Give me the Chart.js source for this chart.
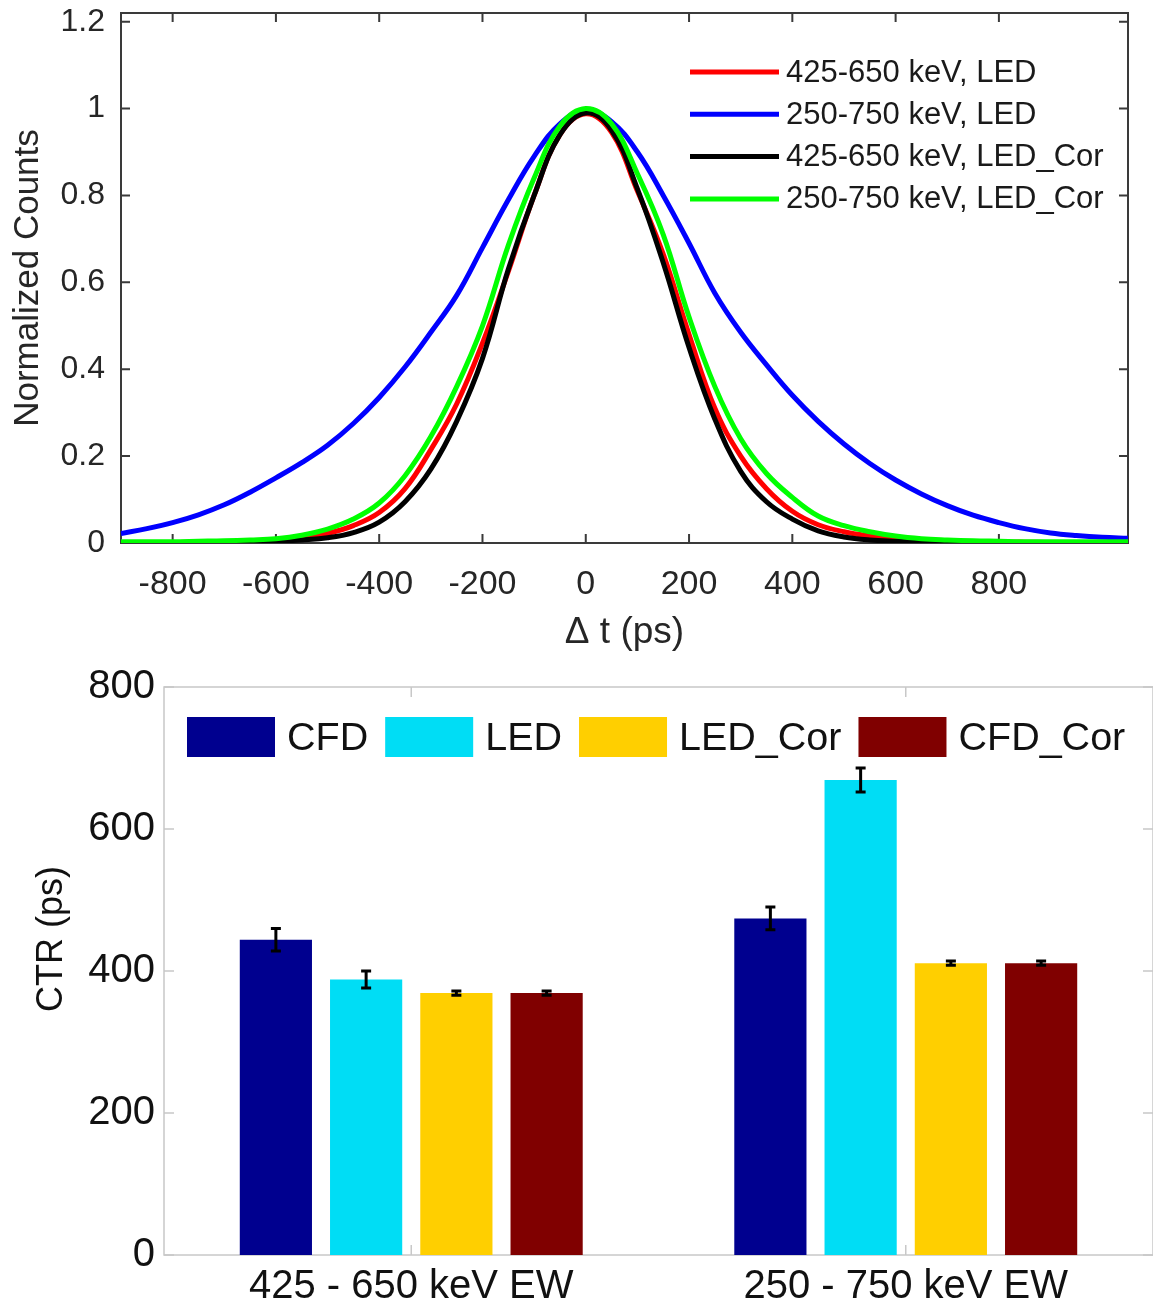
<!DOCTYPE html>
<html>
<head>
<meta charset="utf-8">
<script src="https://cdn.jsdelivr.net/npm/chart.js@4.4.1/dist/chart.umd.min.js"></script>
<style>
  html, body { margin: 0; padding: 0; background: #fff; overflow: hidden; }
  #wrap { position: relative; width: 1153px; height: 1307px; overflow: hidden; }
  #topBox { position: absolute; left: 0; top: 0; }
  #botBox { position: absolute; left: 0; top: 660px; }
</style>
</head>
<body>
<div id="wrap">
  <div id="topBox"><canvas id="curveChart" width="1153" height="660"></canvas></div>
  <div id="botBox"><canvas id="ctrChart" width="1153" height="647"></canvas></div>
</div>
<script>
// ============================================================
// DATA - top panel (timing spectra)
// ============================================================
const dtPs = [-900, -850, -800, -750, -700, -650, -600, -550, -500, -450,
              -400, -350, -300, -250, -200, -150, -100, -50, 0, 50,
              100, 150, 200, 250, 300, 350, 400, 450, 500, 550,
              600, 650, 700, 750, 800, 850, 900, 950, 1000, 1050];

const led425 = [0.001, 0.001, 0.001, 0.002, 0.003, 0.004, 0.007, 0.012, 0.022, 0.04,
                0.07, 0.125, 0.215, 0.32, 0.46, 0.625, 0.8, 0.94, 0.988, 0.945,
                0.81, 0.665, 0.48, 0.31, 0.2, 0.125, 0.073, 0.042, 0.026, 0.016,
                0.009, 0.006, 0.004, 0.003, 0.002, 0.002, 0.001, 0.001, 0.001, 0.001];

const led250 = [0.022, 0.033, 0.047, 0.065, 0.088, 0.117, 0.15, 0.185, 0.225, 0.275,
                0.335, 0.405, 0.485, 0.57, 0.68, 0.79, 0.89, 0.965, 0.997, 0.97,
                0.9, 0.8, 0.69, 0.575, 0.485, 0.41, 0.34, 0.28, 0.228, 0.183,
                0.145, 0.113, 0.086, 0.064, 0.047, 0.033, 0.023, 0.017, 0.013, 0.011];

const ledCor425 = [0, 0, 0, 0.001, 0.001, 0.002, 0.004, 0.007, 0.012, 0.024,
                   0.048, 0.095, 0.17, 0.28, 0.425, 0.63, 0.8, 0.94, 0.99, 0.95,
                   0.815, 0.645, 0.45, 0.285, 0.165, 0.095, 0.055, 0.028, 0.014, 0.007,
                   0.004, 0.002, 0.001, 0.001, 0, 0, 0, 0, 0, 0];

const ledCor250 = [0.003, 0.003, 0.003, 0.004, 0.005, 0.007, 0.01, 0.018, 0.032, 0.055,
                   0.092, 0.155, 0.245, 0.36, 0.5, 0.685, 0.84, 0.96, 1.0, 0.965,
                   0.85, 0.71, 0.52, 0.36, 0.24, 0.16, 0.105, 0.062, 0.04, 0.026,
                   0.016, 0.01, 0.007, 0.005, 0.004, 0.003, 0.003, 0.003, 0.003, 0.003];

const curveLabels = ["425-650 keV, LED", "250-750 keV, LED", "425-650 keV, LED_Cor", "250-750 keV, LED_Cor"];
const curveSeries = [led425, led250, ledCor425, ledCor250];
const curveColors = ["#ff0000", "#0000ff", "#000000", "#00ff00"];

const dtTicks = [-800, -600, -400, -200, 0, 200, 400, 600, 800];
const countTicks = [0, 0.2, 0.4, 0.6, 0.8, 1, 1.2];

// ============================================================
// DATA - bottom panel (CTR bars)
// ============================================================
const windowLabels = ["425 - 650 keV EW", "250 - 750 keV EW"];
const methodNames = ["CFD", "LED", "LED_Cor", "CFD_Cor"];
const ctrCFD = [444, 474];
const ctrLED = [388, 669];
const ctrLEDCor = [369, 411];
const ctrCFDCor = [369, 411];
const errCFD = [16, 16];
const errLED = [12, 17];
const errLEDCor = [3, 3];
const errCFDCor = [3, 3];
const methodColors = ["#00008f", "#00ddf5", "#ffcf00", "#800000"];
const ctrTicks = [0, 200, 400, 600, 800];

const ctrValues = [ctrCFD, ctrLED, ctrLEDCor, ctrCFDCor];
const ctrErrors = [errCFD, errLED, errLEDCor, errCFDCor];

// ============================================================
// COMMON
// ============================================================
const FONT = "'Liberation Sans', Arial, Helvetica, sans-serif";
Chart.defaults.font.family = FONT;

function noOverflow(s) {
  s.paddingTop = 0; s.paddingBottom = 0;
  s.paddingLeft = 0; s.paddingRight = 0;
}

// box + inward ticks on all four sides
const framePlugin = {
  id: "frame",
  beforeDatasetsDraw(chart, args, opts) {
    const { ctx, chartArea: a, scales } = chart;
    const len = opts.tickLen;
    ctx.save();
    ctx.strokeStyle = opts.color;
    ctx.lineWidth = opts.width;
    ctx.strokeRect(a.left, a.top, a.right - a.left, a.bottom - a.top);
    ctx.beginPath();
    scales.x.ticks.forEach((t, i) => {
      const px = scales.x.getPixelForTick(i);
      ctx.moveTo(px, a.bottom); ctx.lineTo(px, a.bottom - len);
      ctx.moveTo(px, a.top); ctx.lineTo(px, a.top + len);
    });
    scales.y.ticks.forEach((t, i) => {
      const py = scales.y.getPixelForTick(i);
      ctx.moveTo(a.left, py); ctx.lineTo(a.left + len, py);
      ctx.moveTo(a.right, py); ctx.lineTo(a.right - len, py);
    });
    ctx.stroke();
    ctx.restore();
  }
};

// ============================================================
// TOP: line legend
// ============================================================
const curveLegend = {
  id: "curveLegend",
  afterDraw(chart, args, o) {
    const ctx = chart.ctx;
    ctx.save();
    ctx.font = o.fontSize + "px " + FONT;
    ctx.textBaseline = "middle";
    ctx.fillStyle = "#1a1a1a";
    chart.data.datasets.forEach((ds, i) => {
      const y = o.y + i * o.step;
      ctx.strokeStyle = ds.borderColor;
      ctx.lineWidth = 5;
      ctx.beginPath();
      ctx.moveTo(o.x, y); ctx.lineTo(o.x + o.lineLen, y);
      ctx.stroke();
      ctx.fillText(ds.label, o.x + o.lineLen + o.gap, y + 1);
    });
    ctx.restore();
  }
};

new Chart(document.getElementById("curveChart"), {
  type: "line",
  data: {
    datasets: curveLabels.map((lab, i) => ({
      label: lab,
      data: dtPs.map((x, j) => ({ x: x, y: curveSeries[i][j] })),
      borderColor: curveColors[i],
      borderWidth: 5,
      pointRadius: 0,
      tension: 0.4,
      order: 4 - i
    }))
  },
  options: {
    responsive: false,
    animation: false,
    layout: { padding: { left: 0, right: 25, top: 13, bottom: 0 } },
    plugins: {
      legend: { display: false },
      tooltip: { enabled: false },
      frame: { color: "#3a3a3a", width: 2, tickLen: 9 },
      curveLegend: { x: 690, y: 72, step: 42.3, lineLen: 89, gap: 7, fontSize: 31 }
    },
    scales: {
      x: {
        type: "linear", min: -900, max: 1050,
        afterBuildTicks: s => { s.ticks = dtTicks.map(v => ({ value: v })); },
        afterFit: s => { s.height = 117; noOverflow(s); },
        grid: { display: false, drawTicks: false },
        border: { display: false },
        ticks: { font: { size: 34 }, color: "#262626", padding: 21, maxRotation: 0, autoSkip: false, callback: v => String(v) },
        title: { display: true, text: "\u0394 t (ps)", font: { size: 37 }, color: "#262626", padding: { top: 0, bottom: 5 } }
      },
      y: {
        min: 0, max: 1.22,
        afterBuildTicks: s => { s.ticks = countTicks.map(v => ({ value: v })); },
        afterFit: s => { s.width = 121; noOverflow(s); },
        grid: { display: false, drawTicks: false },
        border: { display: false },
        ticks: { font: { size: 32 }, color: "#262626", padding: 16, callback: v => String(v) },
        title: { display: true, text: "Normalized Counts", font: { size: 35 }, color: "#262626", padding: { top: 7, bottom: 0 } }
      }
    }
  },
  plugins: [framePlugin, curveLegend]
});

// ============================================================
// BOTTOM: error bars, legend, y title
// ============================================================
const errorBars = {
  id: "errorBars",
  afterDatasetsDraw(chart) {
    const { ctx, scales: { y } } = chart;
    ctx.save();
    ctx.strokeStyle = "#000";
    ctx.lineWidth = 3;
    chart.data.datasets.forEach((ds, i) => {
      chart.getDatasetMeta(i).data.forEach((bar, j) => {
        const hi = y.getPixelForValue(ds.data[j] + ctrErrors[i][j]);
        const lo = y.getPixelForValue(ds.data[j] - ctrErrors[i][j]);
        const cap = 5;
        ctx.beginPath();
        ctx.moveTo(bar.x, hi); ctx.lineTo(bar.x, lo);
        ctx.moveTo(bar.x - cap, hi); ctx.lineTo(bar.x + cap, hi);
        ctx.moveTo(bar.x - cap, lo); ctx.lineTo(bar.x + cap, lo);
        ctx.stroke();
      });
    });
    ctx.restore();
  }
};

const boxLegend = {
  id: "boxLegend",
  afterDraw(chart, args, o) {
    const ctx = chart.ctx;
    ctx.save();
    ctx.font = o.fontSize + "px " + FONT;
    ctx.textBaseline = "middle";
    let x = o.x;
    chart.data.datasets.forEach(ds => {
      ctx.fillStyle = ds.backgroundColor;
      ctx.fillRect(x, o.y - o.boxH / 2, o.boxW, o.boxH);
      x += o.boxW + o.gapBox;
      ctx.fillStyle = "#111";
      ctx.fillText(ds.label, x, o.y + 2);
      x += ctx.measureText(ds.label).width + o.gapItem;
    });
    // y axis title
    ctx.translate(o.titleX, o.titleY);
    ctx.rotate(-Math.PI / 2);
    ctx.textAlign = "center";
    ctx.font = o.titleSize + "px " + FONT;
    ctx.fillStyle = "#111";
    ctx.fillText("CTR (ps)", 0, 0);
    ctx.restore();
  }
};

new Chart(document.getElementById("ctrChart"), {
  type: "bar",
  data: {
    labels: windowLabels,
    datasets: methodNames.map((name, i) => ({
      label: name,
      data: ctrValues[i],
      backgroundColor: methodColors[i],
      categoryPercentage: 0.73,
      barPercentage: 0.8
    }))
  },
  options: {
    responsive: false,
    animation: false,
    layout: { padding: { left: 0, right: 0, top: 27, bottom: 0 } },
    plugins: {
      legend: { display: false },
      tooltip: { enabled: false },
      frame: { color: "#c8c8c8", width: 1.5, tickLen: 10 },
      boxLegend: { x: 187, y: 77, boxW: 88, boxH: 40, gapBox: 12, gapItem: 17, fontSize: 39.5, titleX: 52, titleY: 279, titleSize: 36 }
    },
    scales: {
      x: {
        afterFit: s => { s.height = 52; noOverflow(s); },
        grid: { display: false, drawTicks: false },
        border: { display: false },
        ticks: { font: { size: 40 }, color: "#111", padding: 8, maxRotation: 0 }
      },
      y: {
        min: 0, max: 800,
        afterBuildTicks: s => { s.ticks = ctrTicks.map(v => ({ value: v })); },
        afterFit: s => { s.width = 164; noOverflow(s); },
        grid: { display: false, drawTicks: false },
        border: { display: false },
        ticks: { font: { size: 40 }, color: "#111", padding: 9 }
      }
    }
  },
  plugins: [framePlugin, errorBars, boxLegend]
});
</script>
</body>
</html>
